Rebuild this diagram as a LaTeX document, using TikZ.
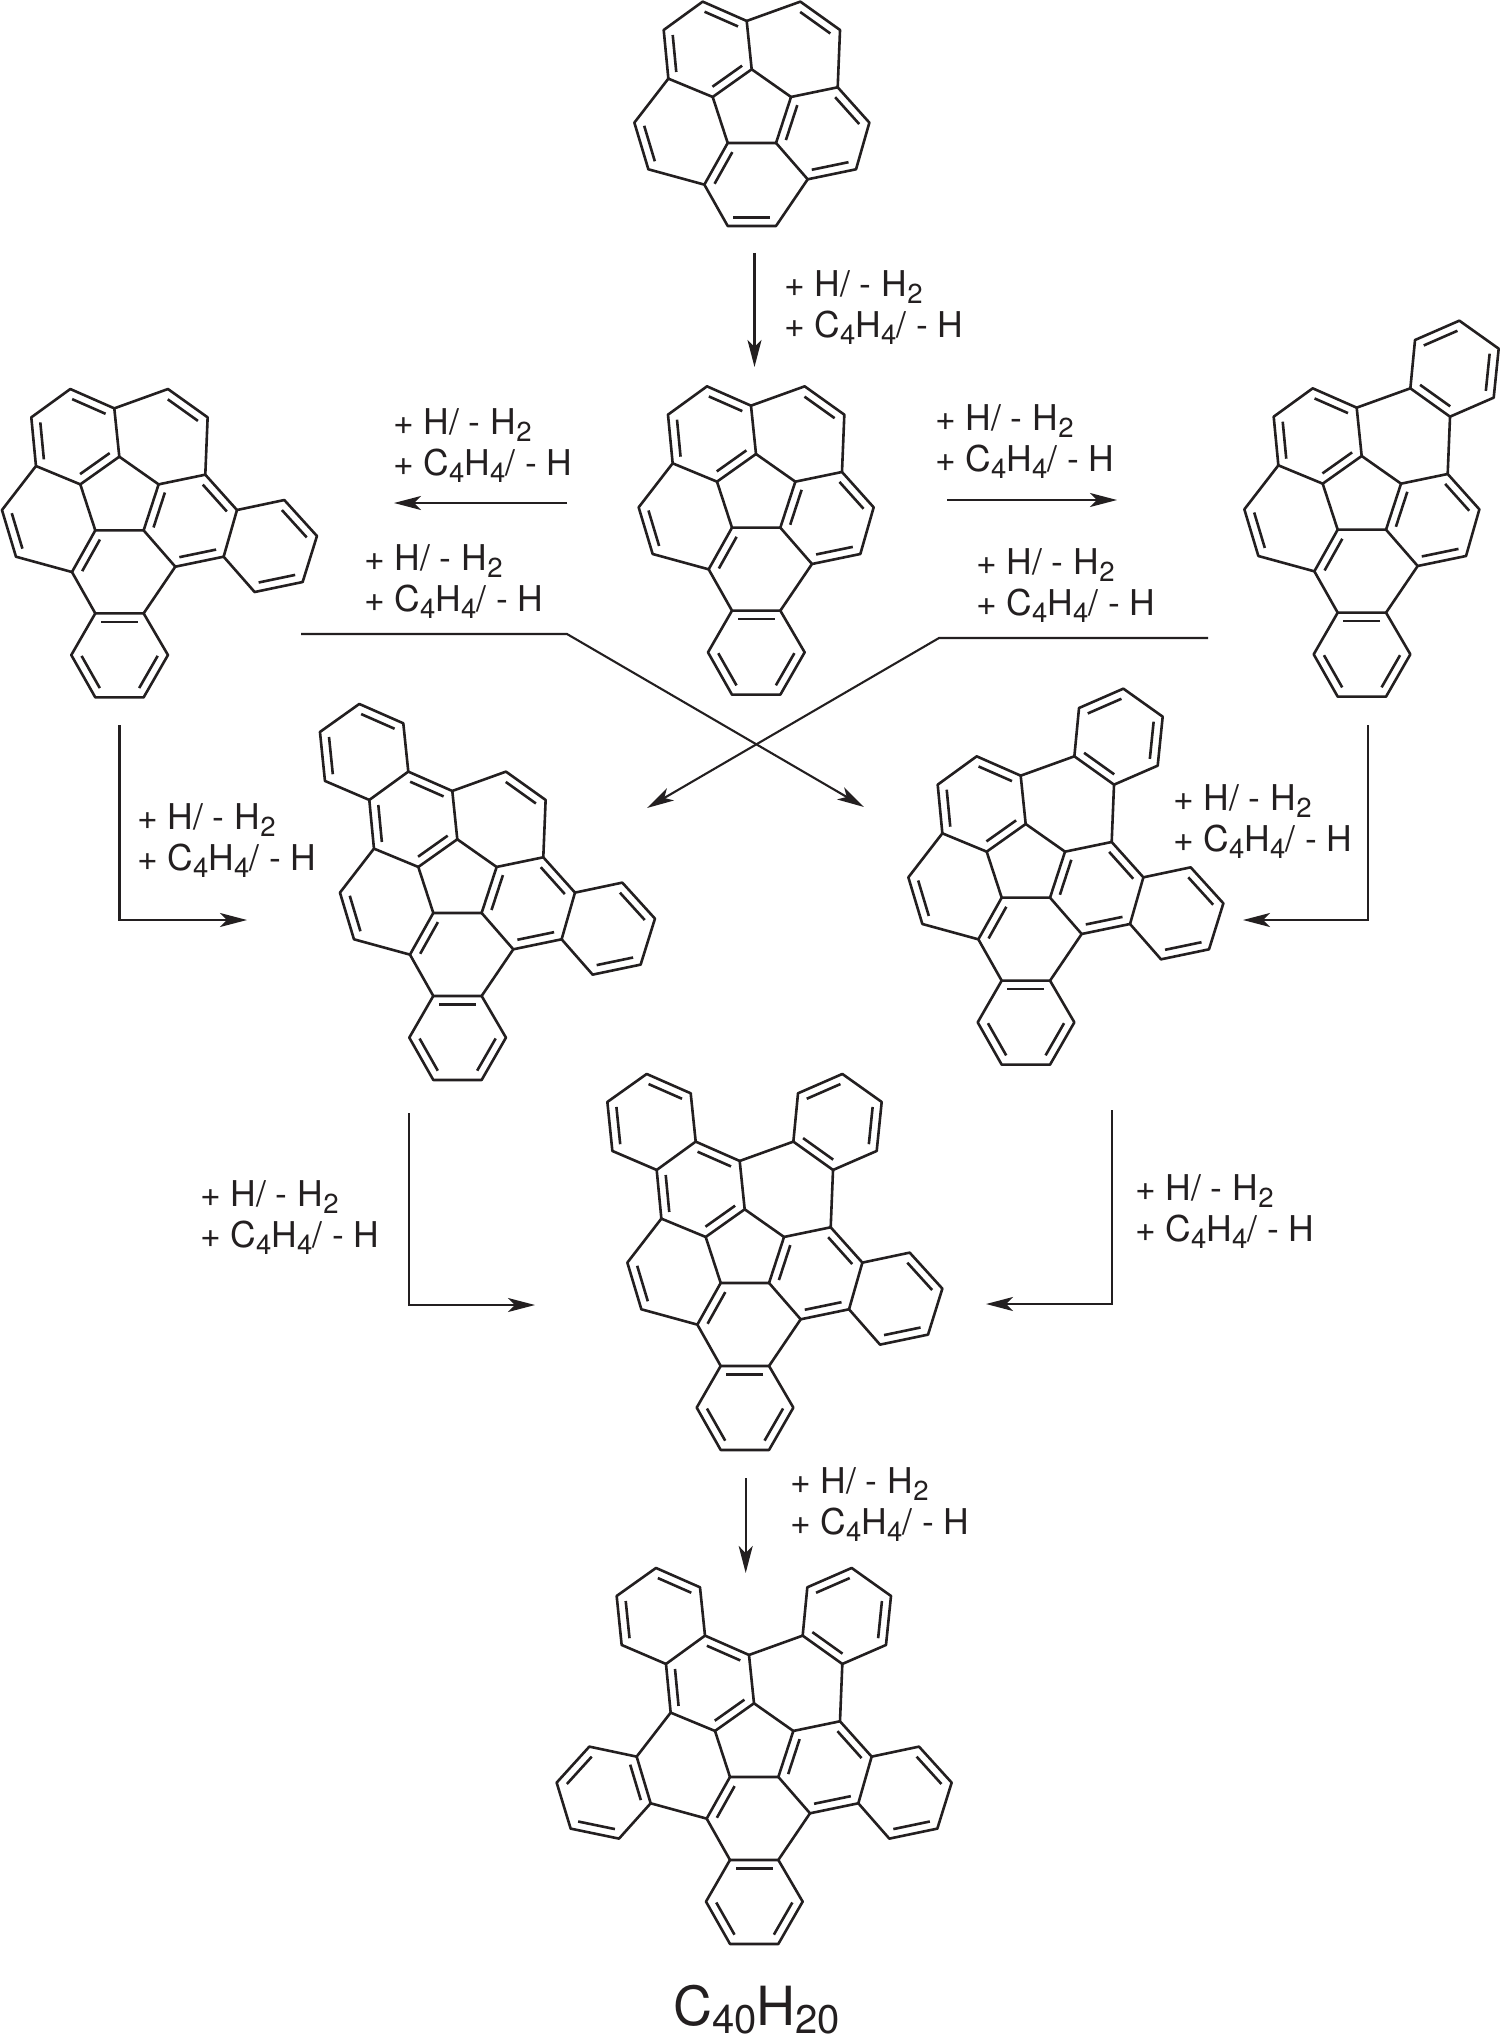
\documentclass[tikz,border=0pt]{standalone}
\usepackage{fontspec}
\setmainfont{TeX Gyre Heros}
\usetikzlibrary{calc,arrows.meta}
\definecolor{ink}{HTML}{231F20}
\newcommand{\sbx}[1]{\raisebox{-7pt}{\fontsize{27.5}{27.5}\selectfont #1}}
\newcommand{\rxn}{+ H/ - H\sbx{2}\\+ C\sbx{4}H\sbx{4}/ - H}
\newcommand{\dl}[2]{\draw[innerbond] ($(#1)!.12!(#2)!8.5pt!90:(#2)$) -- ($(#2)!.12!(#1)!8.5pt!-90:(#1)$);}
\newcommand{\atoms}{%
 \coordinate (P1) at (672,460); \coordinate (P2) at (790,543); \coordinate (P3) at (745,681);
 \coordinate (P4) at (600,681); \coordinate (P5) at (555,543);
 \coordinate (A1) at (657,315); \coordinate (A2) at (525,257); \coordinate (A3) at (408,342); \coordinate (A4) at (422,488);
 \coordinate (B1) at (818,257); \coordinate (B2) at (937,342); \coordinate (B3) at (930,514);
 \coordinate (C1) at (1025,620); \coordinate (C2) at (985,760); \coordinate (C3) at (840,790);
 \coordinate (D1) at (745,930); \coordinate (D2) at (600,930); \coordinate (D3) at (530,806);
 \coordinate (E1) at (362,760); \coordinate (E2) at (320,620);
 \coordinate (F1) at (510,112); \coordinate (F2) at (378,54); \coordinate (F3) at (260,138); \coordinate (F4) at (275,285);
 \coordinate (G1) at (832,112); \coordinate (G2) at (965,54); \coordinate (G3) at (1083,138); \coordinate (G4) at (1068,285);
 \coordinate (H1) at (1167,590); \coordinate (H2) at (1265,698); \coordinate (H3) at (1222,836); \coordinate (H4) at (1078,866);
 \coordinate (I1) at (818,1055); \coordinate (I2) at (745,1182); \coordinate (I3) at (600,1182); \coordinate (I4) at (528,1055);
 \coordinate (J1) at (178,590); \coordinate (J2) at (80,698); \coordinate (J3) at (122,836); \coordinate (J4) at (267,866);
 \draw[bond] (A1)--(A2)--(A3)--(A4)--(E2)--(E1)--(D3)--(D2)--(D1)--(C3)--(C2)--(C1)--(B3)--(B2)--(B1)--cycle;
 \draw[bond] (P1)--(P2)--(P3)--(P4)--(P5)--cycle;
 \draw[bond] (A1)--(P1) (A4)--(P5) (D3)--(P4) (C3)--(P3) (B3)--(P2);
 \dl{A1}{A2}\dl{A3}{A4}\dl{P5}{P1}\dl{P2}{P3}\dl{P4}{D3}\dl{C3}{C2}\dl{C1}{B3}}
\newcommand{\ringF}{\draw[bond] (A2)--(F1)--(F2)--(F3)--(F4)--(A3); \dl{F1}{F2}\dl{F3}{F4}}
\newcommand{\ringG}{\draw[bond] (B1)--(G1)--(G2)--(G3)--(G4)--(B2); \dl{G2}{G1}\dl{G4}{G3}\dl{B1}{B2}}
\newcommand{\ringH}{\draw[bond] (C1)--(H1)--(H2)--(H3)--(H4)--(C2); \dl{H2}{H1}\dl{H4}{H3}}
\newcommand{\ringI}{\draw[bond] (D1)--(I1)--(I2)--(I3)--(I4)--(D2); \dl{I2}{I1}\dl{I4}{I3}\dl{D1}{D2}}
\newcommand{\ringJ}{\draw[bond] (E2)--(J1)--(J2)--(J3)--(J4)--(E1); \dl{J1}{J2}\dl{J3}{J4}\dl{E1}{E2}}
\newcommand{\mol}[3]{\begin{scope}[x=.33333pt,y=-.33333pt,shift={({3*#1-672},{3*#2-460})}]\atoms #3\end{scope}}
\tikzset{
 bond/.style={line width=2.6pt,color=ink,line join=round,line cap=round},
 innerbond/.style={line width=2.6pt,color=ink,line cap=butt},
 rxnarrow/.style={line width=2.1pt,color=ink,line join=miter,-{Stealth[length=27pt,width=14pt,inset=7pt]}},
 lab/.style={font=\fontsize{35.5}{41}\selectfont,text=ink,align=left,anchor=west,inner sep=0pt,outer sep=0pt},
 formula/.style={font=\fontsize{54}{60}\selectfont,text=ink,anchor=base west,inner sep=0pt}
}
\begin{document}
\begin{tikzpicture}[x=1pt,y=-1pt]
\useasboundingbox[fill=white] (0,0) rectangle (1500,2036);
% molecules
\mol{751.7}{69.3}{\dl{B2}{B1}\dl{D2}{D1}\dl{E2}{E1}}
\mol{756}{454}{\ringI\dl{B2}{B1}\dl{E2}{E1}}
\mol{119.3}{456.7}{\ringI\ringH\dl{B2}{B1}\dl{E2}{E1}}
\mol{1361.7}{456}{\ringI\ringG\dl{E2}{E1}}
\mol{457.3}{839.3}{\ringI\ringH\ringF\dl{B2}{B1}\dl{E2}{E1}}
\mol{1025.7}{824}{\ringI\ringH\ringG\dl{E2}{E1}}
\mol{744.7}{1209.3}{\ringI\ringH\ringG\ringF\dl{E2}{E1}}
\mol{754}{1703.3}{\ringI\ringH\ringG\ringF\ringJ}
% arrow end points
\coordinate (a1s) at (754.5,253); \coordinate (a1e) at (754.5,367);
\coordinate (a2s) at (567,503); \coordinate (a2e) at (394,503);
\coordinate (a3s) at (947,500); \coordinate (a3e) at (1117,500);
\coordinate (a4s) at (301,634); \coordinate (a4m) at (567,634); \coordinate (a4e) at (864,807);
\coordinate (a5s) at (1208,638); \coordinate (a5m) at (939,638); \coordinate (a5e) at (647,808);
\coordinate (a6s) at (119.5,725); \coordinate (a6m) at (119.5,920); \coordinate (a6e) at (247,920);
\coordinate (a7s) at (1368,725); \coordinate (a7m) at (1368,920); \coordinate (a7e) at (1243,920);
\coordinate (a8s) at (409,1113); \coordinate (a8m) at (409,1305); \coordinate (a8e) at (535,1305);
\coordinate (a9s) at (1112,1110); \coordinate (a9m) at (1112,1304); \coordinate (a9e) at (986,1304);
\coordinate (a10s) at (745.7,1478); \coordinate (a10e) at (745.7,1573);
\draw[rxnarrow] (a1s)--(a1e);
\draw[rxnarrow] (a2s)--(a2e);
\draw[rxnarrow] (a3s)--(a3e);
\draw[rxnarrow] (a4s)--(a4m)--(a4e);
\draw[rxnarrow] (a5s)--(a5m)--(a5e);
\draw[rxnarrow] (a6s)--(a6m)--(a6e);
\draw[rxnarrow] (a7s)--(a7m)--(a7e);
\draw[rxnarrow] (a8s)--(a8m)--(a8e);
\draw[rxnarrow] (a9s)--(a9m)--(a9e);
\draw[rxnarrow] (a10s)--(a10e);
% labels
\node[lab] (l1) at (784,308) {\rxn};
\node[lab] (l2) at (393,446) {\rxn};
\node[lab] (l3) at (935,442) {\rxn};
\node[lab] (l4) at (364,582) {\rxn};
\node[lab] (l5) at (976,586) {\rxn};
\node[lab] (l6) at (137,841) {\rxn};
\node[lab] (l7) at (1173,822) {\rxn};
\node[lab] (l8) at (200,1218) {\rxn};
\node[lab] (l9) at (1135,1212) {\rxn};
\node[lab] (l10) at (790,1505) {\rxn};
\node[formula] (f) at (673,2025) {C\raisebox{-8pt}{\fontsize{40}{40}\selectfont 40}H\raisebox{-8pt}{\fontsize{40}{40}\selectfont 20}};
\end{tikzpicture}
\end{document}
